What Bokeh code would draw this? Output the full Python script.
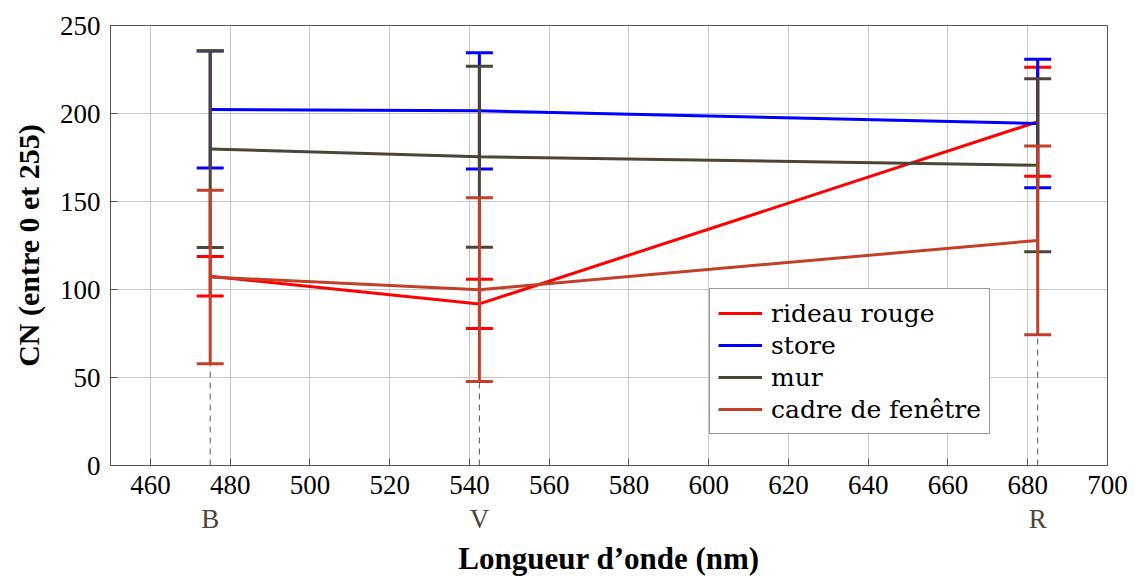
from bokeh.plotting import figure
from bokeh.models import LinearAxis, FixedTicker, Range1d, Legend, LegendItem
from bokeh.embed import file_html
from bokeh.resources import INLINE

# ---------------- data ----------------
bands = ["B", "V", "R"]
wavelengths = [475, 542.5, 682.5]

series_names = ["rideau rouge", "store", "mur", "cadre de fenêtre"]
series_colors = ["#ff0000", "#0000ff", "#4d4436", "#c23f28"]

rideau_mean = [107.5, 91.8, 195.3]
rideau_err = [11.2, 14.0, 31.0]
store_mean = [202.3, 201.5, 194.3]
store_err = [33.2, 33.0, 36.5]
mur_mean = [179.8, 175.4, 170.6]
mur_err = [55.9, 51.4, 49.2]
cadre_mean = [107.1, 99.9, 127.9]
cadre_err = [49.3, 52.2, 53.6]

x_ticks = [460, 480, 500, 520, 540, 560, 580, 600, 620, 640, 660, 680, 700]
y_ticks = [0, 50, 100, 150, 200, 250]

means = [rideau_mean, store_mean, mur_mean, cadre_mean]
errs = [rideau_err, store_err, mur_err, cadre_err]

SERIF = "Liberation Serif"

p = figure(width=1129, height=578, output_backend="svg", toolbar_location=None,
           x_range=Range1d(450, 700), y_range=Range1d(0, 250),
           min_border_left=110, min_border_top=25, min_border_right=22,
           min_border_bottom=112)

p.background_fill_color = "white"
p.border_fill_color = "white"
p.outline_line_color = "#555555"
p.outline_line_width = 1

# axes
p.xaxis.ticker = FixedTicker(ticks=x_ticks)
p.yaxis.ticker = FixedTicker(ticks=y_ticks)
for ax in (p.xaxis[0], p.yaxis[0]):
    ax.major_tick_in = 7
    ax.major_tick_out = 0
    ax.minor_tick_line_color = None
    ax.major_tick_line_color = "#555555"
    ax.axis_line_color = "#555555"
    ax.major_label_text_font = SERIF
    ax.major_label_text_font_size = "27px"
    ax.major_label_text_color = "black"
p.xaxis.major_label_standoff = 10
p.yaxis.major_label_standoff = 10

p.yaxis.axis_label = "CN (entre 0 et 255)"
p.yaxis.axis_label_text_font = SERIF
p.yaxis.axis_label_text_font_style = "bold"
p.yaxis.axis_label_text_font_size = "30px"
p.yaxis.axis_label_text_color = "black"
p.yaxis.axis_label_standoff = 12

band_axis = LinearAxis(ticker=FixedTicker(ticks=wavelengths),
                       major_label_overrides={w: b for w, b in zip(wavelengths, bands)})
band_axis.axis_line_color = None
band_axis.major_tick_line_color = None
band_axis.minor_tick_line_color = None
band_axis.major_tick_in = 0
band_axis.major_tick_out = 0
band_axis.major_label_standoff = 7
band_axis.major_label_text_font = SERIF
band_axis.major_label_text_font_size = "27px"
band_axis.major_label_text_color = "#4d4436"
band_axis.axis_label = "Longueur d’onde (nm)"
band_axis.axis_label_text_font = SERIF
band_axis.axis_label_text_font_style = "bold"
band_axis.axis_label_text_font_size = "31px"
band_axis.axis_label_text_color = "black"
band_axis.axis_label_standoff = 4
p.add_layout(band_axis, "below")

# grid
p.xgrid.grid_line_color = "#c8c8c8"
p.ygrid.grid_line_color = "#c8c8c8"
p.xgrid.grid_line_width = 1
p.ygrid.grid_line_width = 1

# dashed guide lines under each band
lowest = [min(m[i] - e[i] for m, e in zip(means, errs)) for i in range(len(wavelengths))]
p.segment(x0=wavelengths, y0=[0] * len(wavelengths), x1=wavelengths, y1=lowest,
          line_color="#555555", line_width=1, line_dash="6 5")

legend_items = []
for name, color, m, e in zip(series_names, series_colors, means, errs):
    lower = [a - b for a, b in zip(m, e)]
    upper = [a + b for a, b in zip(m, e)]
    r = p.line(wavelengths, m, line_color=color, line_width=3)
    p.segment(x0=wavelengths, y0=lower, x1=wavelengths, y1=upper,
              line_color=color, line_width=3)
    p.scatter(wavelengths, lower, marker="dash", size=27, line_color=color,
              fill_color=color, line_width=3)
    p.scatter(wavelengths, upper, marker="dash", size=27, line_color=color,
              fill_color=color, line_width=3)
    legend_items.append(LegendItem(label=name, renderers=[r]))

legend = Legend(items=legend_items, location=(599, 31))
legend.border_line_color = "#333333"
legend.border_line_width = 1
legend.background_fill_color = "white"
legend.background_fill_alpha = 1
legend.padding = 8
legend.spacing = 0
legend.margin = 0
legend.glyph_width = 44
legend.glyph_height = 32
legend.label_height = 32
legend.label_standoff = 9
legend.label_text_font = "DejaVu Serif"
legend.label_text_font_size = "25px"
legend.label_text_color = "black"
p.add_layout(legend, "center")

open("out.html", "w").write(file_html(p, INLINE))
